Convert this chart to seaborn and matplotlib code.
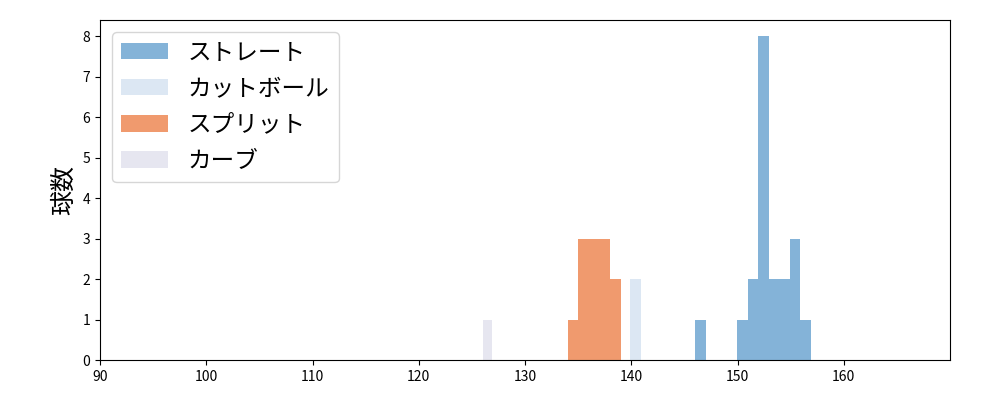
import numpy as np
import pandas as pd
import seaborn as sns
import matplotlib.pyplot as plt

sns.set_style("ticks")
plt.rcParams['font.family'] = ['Noto Sans CJK JP', 'DejaVu Sans']
plt.rcParams['text.color'] = 'black'
plt.rcParams['axes.labelcolor'] = 'black'
plt.rcParams['xtick.color'] = 'black'
plt.rcParams['ytick.color'] = 'black'

# pitch speed histogram per pitch type (bin edges start, bin width, counts)
labels = ["ストレート", "カットボール", "スプリット", "カーブ"]
colors = ["#84b3d8", "#dce7f3", "#f09a6e", "#e6e6f0"]

straight_start, straight_width = 146.0, 0.99
straight_counts = [1, 0, 0, 0, 1, 2, 8, 2, 2, 3, 1]

cutter_start, cutter_width = 139.9, 1.0
cutter_counts = [2]

split_start, split_width = 134.0, 1.0
split_counts = [1, 3, 3, 3, 2]

curve_start, curve_width = 126.0, 0.9
curve_counts = [1]

series = [
    (straight_start, straight_width, straight_counts),
    (cutter_start, cutter_width, cutter_counts),
    (split_start, split_width, split_counts),
    (curve_start, curve_width, curve_counts),
]

fig, ax = plt.subplots(figsize=(10, 4), dpi=100)
fig.subplots_adjust(left=0.1, right=0.95, top=0.95, bottom=0.1)

for (start, width, counts), label, color in zip(series, labels, colors):
    edges = start + width * np.arange(len(counts) + 1)
    df = pd.DataFrame({"speed": (edges[:-1] + edges[1:]) / 2, "n": counts})
    sns.histplot(data=df, x="speed", weights="n", bins=list(edges), color=color,
                 alpha=1, edgecolor="none", linewidth=0, label=label, ax=ax)

ax.set_xlim(90, 170)
ax.set_ylim(0, 8.4)
ax.set_xticks(range(90, 170, 10))
ax.set_yticks(range(0, 9))
ax.set_xlabel("")
ax.set_ylabel("球数", fontsize=18)
ax.tick_params(labelsize=10)
for s in ax.spines.values():
    s.set_color("black")
ax.legend(loc="upper left", fontsize=17, labelspacing=0.56)

fig.savefig("out.png")
